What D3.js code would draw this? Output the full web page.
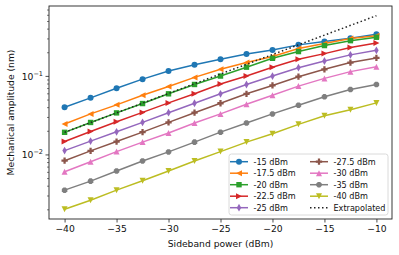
<!DOCTYPE html>
<html>
<head>
<meta charset="utf-8">
<script src="https://cdn.jsdelivr.net/npm/d3@7"></script>
<style>
  body { margin: 0; background: #fff; }
  svg { display: block; font-family: "DejaVu Sans", sans-serif; }
</style>
</head>
<body>
<svg id="chart" width="399" height="255"></svg>
<script>
// sideband power, dBm
const powers = [-40, -37.5, -35, -32.5, -30, -27.5, -25, -22.5, -20, -17.5, -15, -12.5, -10]

// mechanical amplitude (nm), one list per pump power
const amp15 = [0.0404, 0.0533, 0.0708, 0.0923, 0.117, 0.141, 0.165, 0.193, 0.217, 0.252, 0.279, 0.307, 0.345]
const amp17_5 = [0.0248, 0.0333, 0.0434, 0.0575, 0.0744, 0.0971, 0.123, 0.150, 0.179, 0.226, 0.262, 0.304, 0.329]
const amp20 = [0.0194, 0.0259, 0.0343, 0.0451, 0.0600, 0.0789, 0.101, 0.131, 0.170, 0.207, 0.247, 0.285, 0.315]
const amp22_5 = [0.0148, 0.0199, 0.0265, 0.0348, 0.0460, 0.0600, 0.0801, 0.101, 0.131, 0.165, 0.195, 0.233, 0.267]
const amp25 = [0.01135, 0.0150, 0.0197, 0.0260, 0.0345, 0.0455, 0.0600, 0.0789, 0.101, 0.129, 0.157, 0.188, 0.215]
const amp27_5 = [0.00845, 0.01125, 0.0148, 0.0195, 0.0260, 0.0345, 0.0455, 0.0600, 0.0767, 0.0991, 0.123, 0.150, 0.172]
const amp30 = [0.00611, 0.00820, 0.01102, 0.01456, 0.0190, 0.0255, 0.0333, 0.0441, 0.0575, 0.0752, 0.0943, 0.115, 0.133]
const amp35 = [0.00356, 0.00464, 0.00624, 0.00838, 0.01093, 0.01456, 0.0195, 0.0255, 0.0333, 0.0429, 0.0550, 0.0681, 0.0789]
const amp40 = [0.00203, 0.00265, 0.00356, 0.00469, 0.00624, 0.00838, 0.01102, 0.01456, 0.0186, 0.0245, 0.0316, 0.0377, 0.0460]

const extrapPowers = [-40, -10]
const extrapAmp = [0.0194, 0.593]

const labels = ['-15 dBm', '-17.5 dBm', '-20 dBm', '-22.5 dBm', '-25 dBm', '-27.5 dBm', '-30 dBm', '-35 dBm', '-40 dBm']
const xTicks = [-40, -35, -30, -25, -20, -15, -10]

const series = [amp15, amp17_5, amp20, amp22_5, amp25, amp27_5, amp30, amp35, amp40]
const colors = ['#1f77b4', '#ff7f0e', '#2ca02c', '#d62728', '#9467bd', '#8c564b', '#e377c2', '#7f7f7f', '#bcbd22']
const markers = ['o', '<', 's', '>', 'd', 'P', '^', '8', 'v']

const margin = { top: 6, right: 7, bottom: 36, left: 49 }
const width = 399, height = 255

// matplotlib style 5% padding, log padding on y
const xExt = d3.extent(powers)
const xPad = (xExt[1] - xExt[0]) * 0.05
const allY = series.flat().concat(extrapAmp)
const lyExt = d3.extent(allY).map(Math.log10)
const lyPad = (lyExt[1] - lyExt[0]) * 0.05

const x = d3.scaleLinear()
  .domain([xExt[0] - xPad, xExt[1] + xPad])
  .range([margin.left, width - margin.right])

const y = d3.scaleLog()
  .domain([Math.pow(10, lyExt[0] - lyPad), Math.pow(10, lyExt[1] + lyPad)])
  .range([height - margin.bottom, margin.top])

const svg = d3.select('#chart')

// marker paths, size in px (approx. matplotlib markersize 6)
const ms = 6
function markerPath(m) {
  const h = ms / 2
  const poly = (pts) => 'M' + pts.map(p => p.join(',')).join('L') + 'Z'
  switch (m) {
    case 'o': return d3.symbol(d3.symbolCircle, Math.PI * h * h)()
    case 's': return poly([[-h * 0.9, -h * 0.9], [h * 0.9, -h * 0.9], [h * 0.9, h * 0.9], [-h * 0.9, h * 0.9]])
    case '^': return poly([[0, -h], [h, h], [-h, h]])
    case 'v': return poly([[0, h], [h, -h], [-h, -h]])
    case '<': return poly([[-h, 0], [h, -h], [h, h]])
    case '>': return poly([[h, 0], [-h, -h], [-h, h]])
    case 'd': return poly([[0, -h * 1.3], [h * 0.75, 0], [0, h * 1.3], [-h * 0.75, 0]])
    case 'P': {
      const a = h * 0.38, b = h * 1.05
      return poly([[-a, -b], [a, -b], [a, -a], [b, -a], [b, a], [a, a], [a, b], [-a, b], [-a, a], [-b, a], [-b, -a], [-a, -a]])
    }
    case '8': {
      const pts = d3.range(8).map(i => {
        const t = Math.PI / 8 + i * Math.PI / 4
        return [h * Math.cos(t), h * Math.sin(t)]
      })
      return poly(pts)
    }
  }
}

const plot = svg.append('g')

const line = d3.line()
  .x(d => x(d[0]))
  .y(d => y(d[1]))

series.forEach((vals, i) => {
  const pts = powers.map((p, j) => [p, vals[j]])
  const g = plot.append('g')
  g.append('path')
    .attr('d', line(pts))
    .attr('fill', 'none')
    .attr('stroke', colors[i])
    .attr('stroke-width', 1.5)
  g.selectAll('path.mk')
    .data(pts)
    .enter().append('path')
    .attr('class', 'mk')
    .attr('d', markerPath(markers[i]))
    .attr('transform', d => 'translate(' + x(d[0]) + ',' + y(d[1]) + ')')
    .attr('fill', colors[i])
})

plot.append('path')
  .attr('d', line(extrapPowers.map((p, j) => [p, extrapAmp[j]])))
  .attr('fill', 'none')
  .attr('stroke', '#222')
  .attr('stroke-width', 1.5)
  .attr('stroke-dasharray', '1.5,2.5')

// frame
svg.append('rect')
  .attr('x', margin.left)
  .attr('y', margin.top)
  .attr('width', width - margin.left - margin.right)
  .attr('height', height - margin.top - margin.bottom)
  .attr('fill', 'none')
  .attr('stroke', '#222')
  .attr('stroke-width', 0.9)

// x axis
const xAxis = svg.append('g')
  .attr('transform', 'translate(0,' + (height - margin.bottom) + ')')
  .call(d3.axisBottom(x).tickValues(xTicks).tickSize(3.5).tickPadding(2.5)
    .tickFormat(d => String(d).replace('-', '\u2212')))
xAxis.select('.domain').remove()
xAxis.selectAll('text').attr('font-size', 9.2).attr('fill', '#111')
  .attr('font-family', '"DejaVu Sans"')
xAxis.selectAll('line').attr('stroke', '#222').attr('stroke-width', 0.8)

// y axis, log ticks
const yd = y.domain()
const majors = [], minors = []
for (let e = Math.floor(Math.log10(yd[0])); e <= Math.ceil(Math.log10(yd[1])); e++) {
  for (let k = 1; k < 10; k++) {
    const v = k * Math.pow(10, e)
    if (v < yd[0] || v > yd[1]) continue
    if (k === 1) majors.push(e)
    else minors.push(v)
  }
}
const yAxis = svg.append('g')
yAxis.selectAll('line.minor')
  .data(minors).enter().append('line')
  .attr('x1', margin.left).attr('x2', margin.left - 2)
  .attr('y1', d => y(d)).attr('y2', d => y(d))
  .attr('stroke', '#222').attr('stroke-width', 0.6)
yAxis.selectAll('line.major')
  .data(majors).enter().append('line')
  .attr('x1', margin.left).attr('x2', margin.left - 3.5)
  .attr('y1', d => y(Math.pow(10, d))).attr('y2', d => y(Math.pow(10, d)))
  .attr('stroke', '#222').attr('stroke-width', 0.8)
const yt = yAxis.selectAll('text.major')
  .data(majors).enter().append('text')
  .attr('x', margin.left - 6)
  .attr('y', d => y(Math.pow(10, d)) + 3.3)
  .attr('text-anchor', 'end')
  .attr('font-size', 9.2)
  .attr('fill', '#111')
yt.append('tspan').text('10')
yt.append('tspan')
  .attr('dy', -4)
  .attr('font-size', 6.5)
  .text(d => '\u2212' + Math.abs(d))

// axis labels
svg.append('text')
  .attr('x', (margin.left + width - margin.right) / 2)
  .attr('y', 247)
  .attr('text-anchor', 'middle')
  .attr('font-size', 9.2)
  .attr('fill', '#111')
  .text('Sideband power (dBm)')

svg.append('text')
  .attr('transform', 'translate(14,' + ((margin.top + height - margin.bottom) / 2) + ') rotate(-90)')
  .attr('text-anchor', 'middle')
  .attr('font-size', 9.2)
  .attr('fill', '#111')
  .text('Mechanical amplitude (nm)')

// legend
const legend = svg.append('g')
legend.append('rect')
  .attr('x', 229).attr('y', 154)
  .attr('width', 159).attr('height', 61)
  .attr('rx', 2.5)
  .attr('fill', 'rgba(255,255,255,0.85)')
  .attr('stroke', '#d0d0d0')
  .attr('stroke-width', 0.8)

const rowY = [161.7, 173.2, 184.7, 196.2, 207.7]
const items = labels.map((l, i) => ({ label: l, color: colors[i], marker: markers[i], dotted: false }))
items.push({ label: 'Extrapolated', color: '#222', marker: null, dotted: true })

items.forEach((it, i) => {
  const col = Math.floor(i / 5), row = i % 5
  const x0 = col ? 310 : 230
  const yy = rowY[row]
  const g = legend.append('g')
  g.append('line')
    .attr('x1', x0).attr('x2', x0 + 18)
    .attr('y1', yy).attr('y2', yy)
    .attr('stroke', it.color)
    .attr('stroke-width', 1.5)
    .attr('stroke-dasharray', it.dotted ? '1.5,2.5' : null)
  if (it.marker) {
    g.append('path')
      .attr('d', markerPath(it.marker))
      .attr('transform', 'translate(' + (x0 + 9) + ',' + yy + ')')
      .attr('fill', it.color)
  }
  g.append('text')
    .attr('x', x0 + 23.5)
    .attr('y', yy + 3)
    .attr('font-size', 8.1)
    .attr('fill', '#111')
    .text(it.label)
})
</script>
</body>
</html>
